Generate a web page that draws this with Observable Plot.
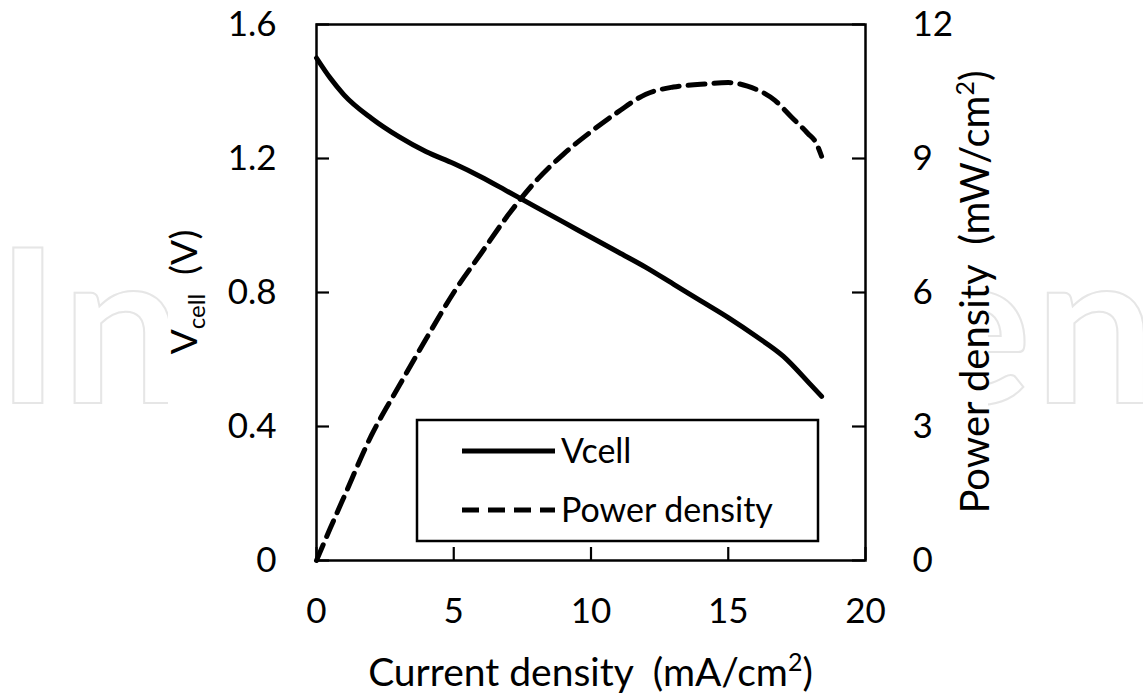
<!DOCTYPE html>
<html>
<head>
<meta charset="utf-8">
<script src="https://cdn.jsdelivr.net/npm/d3@7"></script>
<script src="https://cdn.jsdelivr.net/npm/@observablehq/plot@0.6"></script>
<style>
  html, body { margin: 0; padding: 0; background: #fff; }
  #chart { width: 1143px; height: 697px; }
  #chart svg text { white-space: pre; }
</style>
</head>
<body>
<div id="chart"></div>
<script>
// Polarization curve: cell voltage vs current density (mA/cm²)
const currentV = [0, 0.5, 1, 2, 3, 4, 5, 6, 7, 8, 9, 10, 11, 12, 13, 14, 15, 16, 17, 18, 18.4];
const vcell    = [1.50, 1.44, 1.39, 1.32, 1.265, 1.22, 1.185, 1.145, 1.10, 1.055, 1.01, 0.965, 0.92, 0.875, 0.825, 0.775, 0.725, 0.67, 0.61, 0.525, 0.49];

// Power density curve (mW/cm²) vs current density (mA/cm²)
const currentP = [0, 0.5, 1, 2, 3, 4, 5, 6, 7, 8, 9, 10, 11, 12, 13, 14, 15, 15.7, 16.7, 17.3, 17.9, 18.2, 18.4];
const power    = [0, 0.72, 1.42, 2.8, 3.9, 4.97, 6.0, 6.88, 7.75, 8.5, 9.1, 9.6, 10.05, 10.44, 10.6, 10.66, 10.7, 10.62, 10.3, 9.93, 9.56, 9.35, 9.05];

// Axis ticks
const xTicks     = [0, 5, 10, 15, 20];
const leftTicks  = [0, 0.4, 0.8, 1.2, 1.6];
const rightTicks = [0, 3, 6, 9, 12];

const seriesNames = ["Vcell", "Power density"];

const W = 1143, H = 697;
const mL = 316, mR = 278, mT = 24, mB = 137;
const innerW = W - mL - mR, innerH = H - mT - mB;
const TICK = 13;
const FONT = "Lato, 'Open Sans', sans-serif";

// The power axis (0–12) shares the voltage axis (0–1.6) through a linear rescale
const vMax = 1.6, pMax = 12;
const toV = p => p * vMax / pMax;

const vRows = currentV.map((c, i) => ({c, v: vcell[i]}));
const pRows = currentP.map((c, i) => ({c, p: power[i]}));

const chart = Plot.plot({
  width: W, height: H,
  marginLeft: mL, marginRight: mR, marginTop: mT, marginBottom: mB,
  style: {fontFamily: FONT, fontSize: "35px", color: "#000", background: "transparent"},
  x: {domain: [0, 20]},
  y: {domain: [0, vMax]},
  marks: [
    Plot.frame({fill: "white", stroke: "none"}),
    Plot.line(vRows, {x: "c", y: "v", stroke: "#000", strokeWidth: 5, curve: "monotone-x"}),
    Plot.line(pRows, {x: "c", y: d => toV(d.p), stroke: "#000", strokeWidth: 5,
                      strokeDasharray: "17,9", curve: "monotone-x"}),
    // inward tick marks
    Plot.tickX(xTicks, {x: d => d, insetTop: innerH - TICK, stroke: "#000", strokeWidth: 2.2}),
    Plot.tickY(leftTicks, {y: d => d, insetRight: innerW - TICK, stroke: "#000", strokeWidth: 2.2}),
    Plot.tickY(rightTicks, {y: d => toV(d), insetLeft: innerW - TICK, stroke: "#000", strokeWidth: 2.2}),
    // tick labels
    Plot.axisX(xTicks, {tickSize: 0, tickPadding: 38, label: null, fontSize: 35, fontFamily: FONT}),
    Plot.axisY(leftTicks, {anchor: "left", tickSize: 0, tickPadding: 40, label: null,
                           fontSize: 35, fontFamily: FONT,
                           tickFormat: d => d === 0 ? "0" : d.toFixed(1)}),
    Plot.axisY(rightTicks.map(toV), {anchor: "right", tickSize: 0, tickPadding: 47, label: null,
                           fontSize: 35, fontFamily: FONT,
                           tickFormat: v => String(Math.round(v * pMax / vMax))}),
    Plot.frame({stroke: "#000", strokeWidth: 2.5})
  ]
});

document.getElementById("chart").appendChild(chart);

const svg = d3.select(chart);

// faint publisher watermark, hidden behind the white chart panel except at the sides
const wm = svg.insert("g", ":first-child");
wm.append("text")
  .attr("x", -4).attr("y", 403).attr("text-anchor", "start")
  .attr("font-family", FONT).attr("font-size", 215).attr("font-weight", 700)
  .attr("fill", "none").attr("stroke", "#e6e6e6").attr("stroke-width", 2)
  .attr("textLength", 1160).attr("lengthAdjust", "spacing")
  .text("IntechOpen");
wm.append("rect").attr("x", 168).attr("y", 0).attr("width", 988 - 168).attr("height", H)
  .attr("fill", "white");

// axis titles
const xTitle = svg.append("text")
  .attr("x", mL + innerW / 2).attr("y", 686)
  .attr("text-anchor", "middle").attr("font-family", FONT).attr("font-size", 39).attr("fill", "#000");
xTitle.append("tspan").text("Current density  (mA/cm");
xTitle.append("tspan").attr("font-size", 25).attr("dy", -15).text("2");
xTitle.append("tspan").attr("dy", 15).text(")");

const yTitle = svg.append("text")
  .attr("transform", `translate(197,${mT + innerH / 2}) rotate(-90)`)
  .attr("text-anchor", "middle").attr("font-family", FONT).attr("font-size", 37).attr("fill", "#000");
yTitle.append("tspan").text("V");
yTitle.append("tspan").attr("font-size", 24).attr("dy", 8).text("cell");
yTitle.append("tspan").attr("dy", -8).text("  (V)");

const y2Title = svg.append("text")
  .attr("transform", `translate(989,${mT + innerH / 2}) rotate(-90)`)
  .attr("text-anchor", "middle").attr("font-family", FONT).attr("font-size", 40).attr("fill", "#000");
y2Title.append("tspan").text("Power density  (mW/cm");
y2Title.append("tspan").attr("font-size", 25).attr("dy", -15).text("2");
y2Title.append("tspan").attr("dy", 15).text(")");

// legend box
const lg = svg.append("g");
lg.append("rect").attr("x", 417).attr("y", 420).attr("width", 401).attr("height", 121)
  .attr("fill", "white").attr("stroke", "#000").attr("stroke-width", 2.5);
const legendRows = [{y: 451, dash: null}, {y: 510, dash: "17,9"}];
legendRows.forEach((r, i) => {
  lg.append("line").attr("x1", 462).attr("x2", 555).attr("y1", r.y).attr("y2", r.y)
    .attr("stroke", "#000").attr("stroke-width", 5)
    .attr("stroke-dasharray", r.dash);
  lg.append("text").attr("x", 561).attr("y", r.y).attr("dy", "0.35em")
    .attr("text-anchor", "start")
    .attr("font-family", FONT).attr("font-size", 34).attr("fill", "#000")
    .text(seriesNames[i]);
});
</script>
</body>
</html>
